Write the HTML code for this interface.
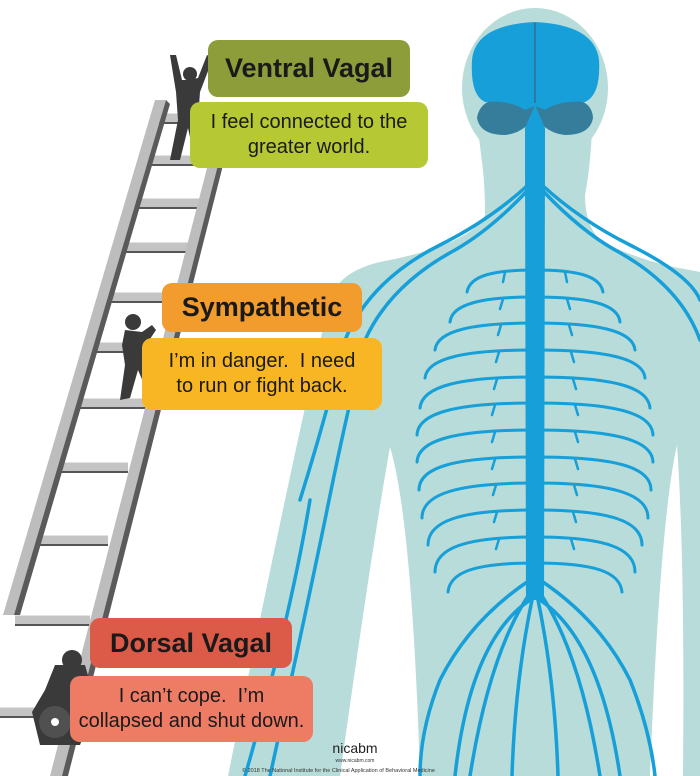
<!DOCTYPE html>
<html><head><meta charset="utf-8"><style>
html,body{margin:0;padding:0;background:#fff;}
body{width:700px;height:776px;overflow:hidden;position:relative;font-family:"Liberation Sans",sans-serif;}
svg{position:absolute;left:0;top:0;}
.box{position:absolute;border-radius:10px;color:#1a1a1a;text-align:center;}
.t{font-weight:bold;font-size:27px;line-height:1;display:flex;align-items:center;justify-content:center;}
.b{font-size:20px;line-height:25px;display:flex;align-items:center;justify-content:center;flex-direction:column;}
</style></head><body>
<svg width="700" height="776" viewBox="0 0 700 776">
<!-- body -->
<g fill="#b7dcd9">
<ellipse cx="535" cy="88" rx="73" ry="80"/>
<path d="M478,130 L592,130 Q590,170 585,195 Q585,225 600,240 Q640,262 690,270 L700,272 L700,776 L683,776 Q685,560 677,445 Q660,520 650,776 L420,776 Q412,520 390,447 Q370,560 340,776 L228,776 Q300,420 330,300 Q338,272 380,262 Q470,245 485,215 Q485,190 483,170 Z"/>
</g>
<!-- brain -->
<path d="M477,118 Q480,97 510,98 L535,106 L560,98 Q592,97 593,118 Q590,135 565,135 Q545,133 535,115 Q525,133 505,135 Q480,135 477,118 Z" fill="#367d9b"/>
<path d="M472,60 Q475,25 535,22 Q595,25 599,60 Q601,95 585,102 Q560,100 545,110 L535,106 L525,110 Q510,100 485,102 Q470,95 472,60 Z" fill="#169fd8"/>
<line x1="535" y1="23" x2="535" y2="103" stroke="#2b7aa3" stroke-width="2"/>
<!-- spine -->
<path d="M535,105 L545,128 L545,150 L544,600 L526,600 L525,150 L525,128 Z" fill="#169fd8"/>
<g fill="none" stroke="#169fd8" stroke-width="3.5" stroke-linecap="round">
<path d="M528,185 Q490,220 440,245 Q370,280 345,340 Q325,420 300,500"/>
<path d="M526,192 Q490,230 455,250 Q390,285 365,340 Q345,420 325,520 Q300,640 270,776"/>
<path d="M542,185 Q580,220 630,245 Q690,275 700,300"/>
<path d="M544,192 Q580,230 615,250 Q680,285 700,340"/>
<path d="M310,500 Q290,620 245,776"/>
<path d="M530,580 Q470,620 440,680 Q420,730 420,776"/>
<path d="M540,580 Q600,620 630,680 Q650,730 655,776"/>
<path d="M532,590 Q490,650 470,776"/>
<path d="M538,590 Q580,650 600,776"/>
<path d="M533,595 Q515,680 512,776"/>
<path d="M537,595 Q555,680 558,776"/>
<path d="M530,600 Q470,640 455,776"/>
<path d="M540,600 Q600,640 620,776"/>
</g>
<g fill="none" stroke="#169fd8" stroke-width="3" stroke-linecap="round">
<path d="M535,270 C495,270 470,275 467,292 M535,270 C575,270 600,275 603,292"/>
<path d="M535,297 C485,297 452,303 450,322 M535,297 C585,297 618,303 620,322"/>
<path d="M535,323 C475,323 437,330 435,350 M535,323 C595,323 633,330 635,350"/>
<path d="M535,350 C465,350 427,358 425,378 M535,350 C605,350 643,358 645,378"/>
<path d="M535,377 C460,377 422,386 420,408 M535,377 C610,377 648,386 650,408"/>
<path d="M535,403 C455,403 418,413 417,435 M535,403 C615,403 652,413 653,435"/>
<path d="M535,430 C455,430 418,440 417,462 M535,430 C615,430 652,440 653,462"/>
<path d="M535,457 C455,457 419,467 419,490 M535,457 C615,457 651,467 651,490"/>
<path d="M535,483 C457,483 422,494 422,518 M535,483 C613,483 648,494 648,518"/>
<path d="M535,510 C460,510 428,521 428,545 M535,510 C610,510 642,521 642,545"/>
<path d="M535,537 C465,537 435,548 435,572 M535,537 C605,537 635,548 635,572"/>
<path d="M535,563 C475,563 450,572 448,592 M535,563 C595,563 620,572 622,592"/>
</g>
<g fill="none" stroke="#169fd8" stroke-width="2.5" stroke-linecap="round">
<path d="M505,272 l-2,10 M565,272 l2,10 M503,299 l-3,10 M567,299 l3,10 M501,325 l-3,10 M569,325 l3,10 M499,352 l-3,10 M571,352 l3,10 M497,379 l-3,10 M573,379 l3,10 M495,405 l-3,10 M575,405 l3,10 M495,432 l-3,10 M575,432 l3,10 M495,459 l-3,10 M575,459 l3,10 M496,485 l-3,10 M574,485 l3,10 M497,512 l-3,10 M573,512 l3,10 M499,539 l-3,10 M571,539 l3,10"/>
</g>
<!-- ladder -->
<g>
<g stroke="#c4c4c4" stroke-width="9">
<line x1="158" y1="118" x2="224" y2="118"/><line x1="148" y1="160" x2="214" y2="160"/><line x1="136" y1="203" x2="202" y2="203"/><line x1="123" y1="247" x2="190" y2="247"/><line x1="109" y1="297" x2="176" y2="297"/><line x1="95" y1="347" x2="162" y2="347"/><line x1="78" y1="403" x2="146" y2="403"/><line x1="60" y1="467" x2="128" y2="467"/><line x1="39" y1="540" x2="108" y2="540"/><line x1="15" y1="620" x2="90" y2="620"/><line x1="0" y1="712" x2="70" y2="712"/>
</g>
<g stroke="#555" stroke-width="2">
<line x1="158" y1="123" x2="224" y2="123"/><line x1="148" y1="165" x2="214" y2="165"/><line x1="136" y1="208" x2="202" y2="208"/><line x1="123" y1="252" x2="190" y2="252"/><line x1="109" y1="302" x2="176" y2="302"/><line x1="95" y1="352" x2="162" y2="352"/><line x1="78" y1="408" x2="146" y2="408"/><line x1="60" y1="472" x2="128" y2="472"/><line x1="39" y1="545" x2="108" y2="545"/><line x1="15" y1="625" x2="90" y2="625"/><line x1="0" y1="717" x2="70" y2="717"/>
</g>
<path d="M155,100 L166,100 L14,615 L3,615 Z" fill="#bdbdbd"/>
<path d="M166,100 L170,104 L20,615 L14,615 Z" fill="#5a5a5a"/>
<path d="M222,110 L232,110 L62,776 L50,776 Z" fill="#bdbdbd"/>
<path d="M232,110 L236,114 L68,776 L62,776 Z" fill="#5a5a5a"/>
</g>
<!-- figures -->
<g fill="#3a3a3a">
<path d="M170,55 L176,55 L182,80 L188,80 L198,78 L207,55 L213,58 L200,92 L198,120 L205,165 L196,165 L188,128 L180,160 L170,160 L178,120 L176,92 Z"/>
<circle cx="190" cy="74" r="7"/>
<circle cx="133" cy="322" r="8"/>
<path d="M125,330 L142,332 L152,325 L156,330 L148,342 L148,360 L160,395 L150,398 L138,370 L130,398 L120,400 L125,365 L122,345 Z"/>
<circle cx="72" cy="660" r="10"/>
<path d="M55,665 L85,665 L95,700 L90,718 L80,745 L40,745 L32,712 L45,690 Z"/>
</g>
<circle cx="55" cy="722" r="16" fill="#555" opacity="0.85"/>
<circle cx="55" cy="722" r="4" fill="#fff"/>
<text x="355" y="753" font-family="Liberation Sans, sans-serif" font-size="14" text-anchor="middle" fill="#222">nicabm</text>
<text x="355" y="762" font-family="Liberation Sans, sans-serif" font-size="5" text-anchor="middle" fill="#333">www.nicabm.com</text>
<text x="242" y="772" font-family="Liberation Sans, sans-serif" font-size="5.5" fill="#333">© 2018 The National Institute for the Clinical Application of Behavioral Medicine</text>
</svg>
<div class="box t" style="left:208px;top:40px;width:202px;height:57px;background:#8c9d3a;">Ventral Vagal</div>
<div class="box b" style="left:190px;top:102px;width:238px;height:66px;background:#b6c934;"><div>I feel connected to the</div><div>greater world.</div></div>
<div class="box t" style="left:162px;top:283px;width:200px;height:49px;background:#f29c2e;">Sympathetic</div>
<div class="box b" style="left:142px;top:338px;width:240px;height:72px;background:#f8b524;"><div>I’m in danger.&nbsp; I need</div><div>to run or fight back.</div></div>
<div class="box t" style="left:90px;top:618px;width:202px;height:50px;background:#dc5a48;">Dorsal Vagal</div>
<div class="box b" style="left:70px;top:676px;width:243px;height:66px;background:#ee7c65;"><div>I can’t cope.&nbsp; I’m</div><div>collapsed and shut down.</div></div>
</body></html>
